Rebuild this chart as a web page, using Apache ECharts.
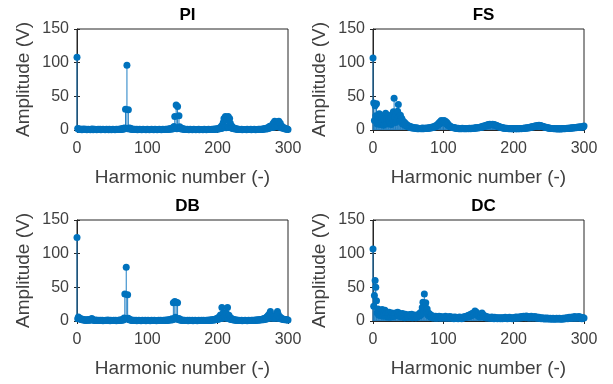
<!DOCTYPE html>
<html>
<head>
<meta charset="utf-8">
<script src="https://cdn.jsdelivr.net/npm/echarts@6/dist/echarts.min.js"></script>
<style>
  html, body { margin: 0; padding: 0; background: #fff; }
  #chart { width: 613px; height: 384px; }
</style>
</head>
<body>
<div id="chart"></div>
<script>
// harmonic amplitudes, index = harmonic number 0..300
const titles = ['PI', 'FS', 'DB', 'DC'];

const ampPI = [
  108, 2.1, 1.4, 0.9, 1.6, 0.7, 1.2, 0.5, 1.0, 0.8,
  1.3, 0.6, 0.9, 1.1, 0.4, 0.8, 1.2, 0.6, 0.9, 0.5,
  1.0, 0.7, 1.3, 0.5, 0.8, 1.1, 0.6, 0.9, 0.4, 0.7,
  1.0, 0.6, 0.8, 1.2, 0.5, 0.9, 0.7, 1.1, 0.6, 0.8,
  0.5, 0.9, 1.2, 0.6, 0.8, 0.4, 1.0, 0.7, 0.9, 0.5,
  0.8, 1.1, 0.6, 0.9, 0.5, 0.7, 1.0, 0.6, 0.8, 1.2,
  0.7, 1.0, 1.4, 0.9, 1.8, 1.2, 2.6, 1.5, 3.1, 31,
  2.2, 96, 1.9, 30, 2.8, 1.4, 2.5, 1.1, 1.6, 0.9,
  1.2, 0.7, 1.0, 0.6, 0.9, 1.1, 0.5, 0.8, 0.7, 1.0,
  0.6, 0.9, 0.5, 0.8, 1.1, 0.6, 0.7, 0.9, 0.5, 0.8,
  1.0, 0.6, 0.8, 0.5, 0.9, 0.7, 1.1, 0.6, 0.8, 0.5,
  0.7, 1.0, 0.6, 0.9, 0.5, 0.8, 0.6, 1.0, 0.7, 0.9,
  0.5, 0.8, 1.1, 0.6, 0.9, 0.7, 1.0, 0.8, 1.2, 0.9,
  1.4, 1.0, 1.7, 1.2, 2.3, 1.5, 3.4, 2.0, 5.2, 20,
  2.6, 37, 1.9, 35, 2.4, 21, 4.8, 1.8, 3.0, 1.3,
  2.2, 1.0, 1.5, 0.8, 1.2, 0.6, 0.9, 1.1, 0.7, 0.5,
  0.8, 1.0, 0.6, 0.9, 0.5, 0.7, 1.0, 0.6, 0.8, 0.5,
  0.9, 0.6, 0.8, 1.0, 0.5, 0.7, 0.9, 0.6, 0.8, 0.5,
  0.7, 1.0, 0.6, 0.9, 0.5, 0.8, 0.6, 1.0, 0.7, 0.9,
  0.6, 0.8, 1.0, 0.7, 1.1, 0.8, 1.3, 1.0, 1.6, 1.2,
  2.0, 1.4, 2.7, 1.8, 3.9, 2.3, 6.5, 3.0, 11, 17,
  4.2, 20, 3.5, 15, 3.8, 20, 4.5, 17, 10, 3.2,
  5.8, 2.4, 3.6, 1.8, 2.5, 1.3, 1.9, 1.0, 1.4, 0.8,
  1.1, 0.7, 0.9, 0.6, 1.0, 0.5, 0.8, 0.7, 0.9, 0.6,
  0.8, 0.5, 1.0, 0.7, 0.9, 0.6, 0.8, 1.0, 0.5, 0.7,
  0.9, 0.6, 1.0, 0.8, 0.5, 0.7, 0.9, 0.6, 1.1, 0.8,
  1.0, 0.7, 1.2, 0.9, 1.4, 1.1, 1.7, 1.3, 2.2, 1.6,
  2.8, 2.0, 3.8, 2.6, 5.6, 3.4, 4.0, 6.5, 3.8, 10,
  4.6, 13, 5.0, 12, 6.0, 12, 4.8, 13, 4.4, 10,
  3.5, 6.0, 2.8, 4.2, 2.1, 2.9, 1.6, 2.0, 1.2, 1.5, 0.9
];

const ampFS = [
  107, 40, 14, 36, 21, 39, 9, 18, 12, 24,
  8, 22, 15, 11, 19, 7, 16, 13, 25, 10,
  17, 9, 21, 14, 12, 18, 8, 23, 15, 27,
  47, 19, 11, 24, 16, 28, 38, 20, 14, 22,
  12, 17, 9, 13, 8, 11, 6.5, 9, 5.5, 7,
  4.8, 6, 4.2, 5.1, 3.5, 4.4, 3.1, 3.8, 2.7, 3.4,
  2.9, 2.2, 3.3, 2.0, 2.6, 1.8, 2.4, 2.1, 1.7, 2.5,
  2.0, 2.8, 1.9, 2.3, 2.6, 2.1, 3.0, 2.4, 2.7, 3.2,
  2.6, 3.5, 3.0, 4.1, 3.4, 4.6, 3.9, 5.3, 4.5, 6.2,
  5.4, 7.5, 6.8, 9.6, 8.7, 12, 10, 14, 11, 13,
  12, 14, 10, 13, 9.2, 11, 7.6, 8.4, 5.8, 6.1,
  4.7, 5.0, 3.9, 4.2, 3.3, 3.6, 2.8, 3.1, 2.5, 2.7,
  2.2, 2.6, 1.9, 2.4, 2.0, 2.3, 1.8, 2.5, 2.1, 1.9,
  2.4, 2.0, 2.2, 1.7, 2.3, 2.1, 1.9, 2.6, 2.2, 2.0,
  2.5, 2.1, 2.7, 2.3, 2.9, 2.5, 3.2, 2.8, 3.5, 3.1,
  3.8, 3.3, 4.2, 3.7, 4.8, 4.1, 5.4, 4.7, 6.1, 5.5,
  6.7, 6.0, 7.4, 6.6, 8.0, 7.1, 8.6, 7.7, 8.3, 7.9,
  8.5, 7.6, 8.1, 7.2, 7.6, 6.4, 6.8, 5.5, 5.7, 4.6,
  4.8, 3.9, 4.0, 3.3, 3.5, 2.9, 3.0, 2.6, 2.7, 2.3,
  2.5, 2.1, 2.3, 2.0, 2.2, 1.8, 2.1, 1.9, 2.0, 1.7,
  2.1, 1.8, 2.2, 1.9, 2.0, 1.7, 2.3, 2.0, 1.8, 2.1,
  2.2, 1.9, 2.4, 2.1, 2.6, 2.3, 2.8, 2.5, 3.1, 2.8,
  3.4, 3.1, 3.8, 3.5, 4.3, 3.9, 4.8, 4.4, 5.3, 4.9,
  5.8, 5.3, 6.2, 5.7, 6.7, 6.0, 7.0, 6.1, 6.5, 5.8,
  5.9, 5.2, 5.3, 4.5, 4.6, 3.8, 3.9, 3.2, 3.3, 2.8,
  2.9, 2.5, 2.6, 2.3, 2.4, 2.1, 2.2, 1.9, 2.1, 1.8,
  2.0, 1.7, 1.9, 1.6, 1.8, 1.7, 1.9, 1.6, 2.0, 1.8,
  2.1, 1.9, 2.2, 2.0, 2.4, 2.1, 2.5, 2.3, 2.7, 2.4,
  2.9, 2.6, 3.1, 2.8, 3.3, 3.0, 3.5, 3.2, 3.8, 3.4,
  4.0, 3.7, 4.3, 3.9, 4.5, 4.1, 4.7, 4.3, 5.0, 4.6, 6.0
];

const ampDB = [
  124, 3.5, 6.0, 4.2, 2.8, 3.6, 2.1, 1.9, 2.6, 1.5,
  2.0, 1.2, 1.7, 0.9, 1.4, 1.1, 2.2, 1.3, 1.0, 1.6,
  2.4, 3.8, 2.1, 1.5, 1.2, 0.9, 1.3, 0.8, 1.1, 0.7,
  1.0, 0.6, 0.9, 1.2, 0.7, 0.8, 1.1, 0.5, 0.9, 0.6,
  0.8, 1.0, 0.6, 0.9, 1.3, 0.7, 0.8, 0.5, 1.0, 0.6,
  0.9, 0.7, 1.1, 0.6, 0.8, 1.0, 0.5, 0.9, 0.7, 1.2,
  0.8, 1.3, 1.0, 1.6, 1.2, 2.4, 1.5, 4.5, 40, 3.8,
  80, 3.2, 39, 4.0, 1.8, 2.1, 1.3, 1.5, 0.9, 1.1,
  0.7, 1.0, 0.6, 0.8, 1.1, 0.5, 0.9, 0.7, 1.0, 0.6,
  0.8, 0.5, 0.9, 1.1, 0.6, 0.8, 0.7, 1.0, 0.5, 0.9,
  0.7, 1.2, 0.6, 0.9, 0.5, 0.8, 1.0, 0.6, 0.9, 0.7,
  1.1, 0.6, 0.8, 0.5, 0.9, 0.7, 1.0, 0.6, 0.8, 1.2,
  0.7, 0.9, 0.6, 1.0, 0.8, 1.1, 0.7, 1.3, 0.9, 1.5,
  1.1, 1.8, 1.3, 2.3, 1.6, 3.4, 2.0, 27, 3.1, 29,
  5.5, 28, 3.0, 27, 2.2, 3.6, 1.5, 2.1, 1.2, 1.6,
  0.9, 1.2, 0.7, 1.0, 0.6, 0.9, 0.8, 1.1, 0.5, 0.8,
  1.0, 0.6, 0.9, 0.7, 1.1, 0.5, 0.8, 0.6, 1.0, 0.7,
  0.9, 0.5, 0.8, 1.1, 0.6, 0.9, 0.7, 1.0, 0.6, 0.8,
  1.2, 0.7, 0.9, 0.6, 1.0, 0.8, 1.1, 0.7, 1.3, 0.9,
  1.4, 1.0, 1.7, 1.2, 2.1, 1.4, 2.6, 1.7, 3.3, 2.1,
  4.4, 2.6, 6.0, 3.2, 9.0, 3.8, 20, 4.5, 12, 5.0,
  6.5, 4.8, 12, 4.2, 20, 3.6, 8.5, 2.9, 5.2, 2.3,
  3.4, 1.9, 2.5, 1.5, 1.9, 1.2, 1.5, 1.0, 1.2, 0.8,
  1.0, 0.7, 0.9, 0.6, 1.1, 0.5, 0.8, 0.9, 0.6, 1.0,
  0.7, 0.9, 0.5, 0.8, 1.0, 0.6, 0.9, 0.7, 1.1, 0.8,
  1.0, 0.7, 1.2, 0.9, 1.3, 1.0, 1.5, 1.1, 1.8, 1.3,
  2.0, 1.5, 2.4, 1.7, 2.9, 2.0, 3.6, 2.4, 4.6, 2.9,
  6.2, 3.4, 8.5, 3.9, 11, 14, 9.0, 4.6, 7.5, 4.2,
  6.8, 4.0, 7.5, 4.5, 9.5, 14, 10, 3.7, 6.6, 3.2,
  4.8, 2.8, 3.5, 2.4, 2.6, 2.0, 2.1, 1.7, 1.8, 1.4, 1.5
];

const ampDC = [
  107, 22, 38, 60, 50, 30, 12, 18, 9, 14,
  8, 15, 11, 17, 7, 13, 10, 16, 9, 12,
  6, 11, 8, 13, 5.5, 10, 7, 12, 9, 6.5,
  10, 7.5, 12, 8, 11, 13, 9, 12, 7, 10,
  6, 9, 11, 7, 8.5, 5, 10, 7, 9, 6,
  8, 5.5, 9.5, 6.5, 7, 10, 5, 8, 6, 9,
  7, 5, 8.5, 6, 9, 7, 11, 8, 13, 10,
  20, 28, 16, 40, 22, 27, 14, 18, 9, 12,
  7, 10, 6, 8, 5, 7.5, 4.5, 6, 5, 7,
  4, 6, 5.5, 4.5, 7, 5, 6.5, 4, 5.5, 6,
  4.5, 6, 5, 7, 4, 5.5, 6, 4.5, 5, 6.5,
  4, 5.5, 6, 4.5, 5, 3.5, 6, 4, 5.5, 4.5,
  5, 3.5, 4.5, 6, 4, 5, 3.5, 5.5, 4.5, 6,
  5, 6.5, 5.5, 7, 6, 8, 6.5, 9, 7, 10,
  8, 11, 9, 12, 10, 15, 11, 13, 9, 8,
  7, 9, 6, 10, 8, 12, 7, 9, 6, 7.5,
  5, 6.5, 4.5, 6, 5, 5.5, 4, 5, 4.5, 6,
  4, 5, 3.5, 5.5, 4, 4.5, 5, 3.5, 4.5, 5,
  4, 3.5, 5, 4.5, 3.5, 5, 4, 4.5, 5.5, 4,
  4.5, 3.5, 5, 4, 5.5, 4.5, 4, 5, 3.5, 4.5,
  5, 4, 5.5, 4.5, 6, 5, 4, 5.5, 6, 4.5,
  5.5, 6.5, 5, 6, 7, 5.5, 6.5, 5, 7.5, 6,
  5, 6.5, 4.5, 6, 5, 7, 5.5, 4.5, 6, 5,
  6.5, 5, 4.5, 6, 4, 5, 5.5, 4, 4.5, 3.5,
  5, 4, 3.5, 4.5, 3, 4, 3.5, 4.5, 3, 4,
  3.5, 3, 4, 3.5, 2.5, 3.5, 4, 3, 3.5, 2.5,
  3.5, 4, 3, 3.5, 3, 4, 3.5, 2.5, 3.5, 3,
  4, 3, 3.5, 4.5, 3.5, 4, 5, 3.5, 4.5, 5.5,
  4, 5, 4.5, 6, 4, 5.5, 4.5, 6.5, 5, 4,
  5.5, 6, 4.5, 6.5, 5, 4, 5.5, 3.5, 4.5, 5, 4.5
];

const allAmps = [ampPI, ampFS, ampDB, ampDC];

const blue = '#0072BD';
const txt = '#404040';
const font = 'Liberation Sans, Arial, sans-serif';

// plot boxes [left, top]
const boxes = [[77, 29], [373, 29], [77, 220], [373, 220]];
const boxW = 211, boxH = 101;

const chart = echarts.init(document.getElementById('chart'));

const grid = [], xAxis = [], yAxis = [], series = [], title = [];

boxes.forEach((b, i) => {
  grid.push({
    left: b[0], top: b[1], width: boxW, height: boxH,
    show: true, borderColor: '#262626', borderWidth: 1, backgroundColor: 'transparent'
  });
  title.push({
    text: titles[i],
    left: b[0] + boxW / 2,
    top: b[1] - 27,
    textAlign: 'center',
    textStyle: { fontFamily: font, fontSize: 17, fontWeight: 'bold', color: '#000' }
  });
  // main axes
  xAxis.push({
    type: 'value', gridIndex: i, min: 0, max: 300, interval: 100,
    name: 'Harmonic number (-)', nameLocation: 'middle', nameGap: 38,
    nameTextStyle: { fontFamily: font, fontSize: 19, color: txt },
    axisLine: { show: true, lineStyle: { color: '#262626', width: 1 } },
    axisTick: { show: true, inside: true, length: 3, lineStyle: { color: '#262626' } },
    axisLabel: { fontFamily: font, fontSize: 16, color: txt, margin: 11 },
    splitLine: { show: false }
  });
  yAxis.push({
    type: 'value', gridIndex: i, min: 0, max: 150, interval: 50,
    name: 'Amplitude (V)', nameLocation: 'middle', nameGap: 44,
    nameTextStyle: { fontFamily: font, fontSize: 19, color: txt },
    axisLine: { show: true, lineStyle: { color: '#262626', width: 1 } },
    axisTick: { show: true, inside: true, length: 3, lineStyle: { color: '#262626' } },
    axisLabel: { fontFamily: font, fontSize: 16, color: txt, margin: 8 },
    splitLine: { show: false }
  });
  // mirrored ticks on top / right
  xAxis.push({
    type: 'value', gridIndex: i, position: 'top', min: 0, max: 300, interval: 100,
    axisLine: { show: false }, axisLabel: { show: false }, splitLine: { show: false },
    axisTick: { show: true, inside: true, length: 3, lineStyle: { color: '#262626' } }
  });
  yAxis.push({
    type: 'value', gridIndex: i, position: 'right', min: 0, max: 150, interval: 50,
    axisLine: { show: false }, axisLabel: { show: false }, splitLine: { show: false },
    axisTick: { show: true, inside: true, length: 3, lineStyle: { color: '#262626' } }
  });

  const pts = allAmps[i].map((v, h) => [h, v]);
  // stems
  series.push({
    type: 'bar', xAxisIndex: i * 2, yAxisIndex: i * 2,
    data: pts, barWidth: 1, itemStyle: { color: '#1f7fc4' },
    silent: true, animation: false
  });
  // stem heads
  series.push({
    type: 'scatter', xAxisIndex: i * 2, yAxisIndex: i * 2,
    data: pts, symbol: 'circle', symbolSize: 7, clip: false,
    itemStyle: { color: blue, opacity: 1 },
    silent: true, animation: false
  });
});

chart.setOption({ animation: false, title, grid, xAxis, yAxis, series });
</script>
</body>
</html>
